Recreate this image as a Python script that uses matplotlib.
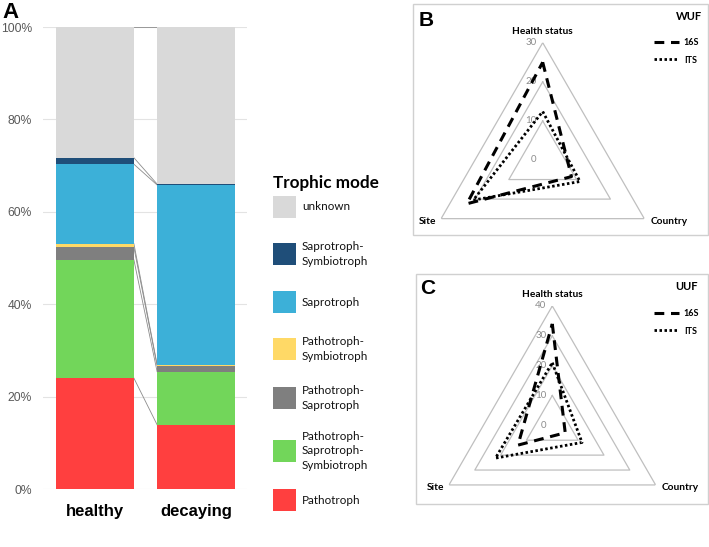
import numpy as np
import matplotlib
matplotlib.use("Agg")
import matplotlib.pyplot as plt
from matplotlib.patches import Rectangle
from matplotlib.lines import Line2D

# ---------------- data ----------------
categories = ["healthy", "decaying"]
modes = ["Pathotroph", "Pathotroph-Saprotroph-Symbiotroph", "Pathotroph-Saprotroph",
         "Pathotroph-Symbiotroph", "Saprotroph", "Saprotroph-Symbiotroph", "unknown"]
legend_labels = ["Pathotroph", "Pathotroph-\nSaprotroph-\nSymbiotroph", "Pathotroph-\nSaprotroph",
                 "Pathotroph-\nSymbiotroph", "Saprotroph", "Saprotroph-\nSymbiotroph", "unknown"]
healthy = [24.0, 25.6, 2.7, 0.8, 17.2, 1.4, 28.3]
decaying = [13.9, 11.5, 1.3, 0.2, 38.9, 0.2, 34.0]
mode_colors = ["#ff3f3f", "#72d65a", "#7f7f7f", "#ffd966", "#3cb0d8", "#1f4e79", "#d9d9d9"]
yticks = [0, 20, 40, 60, 80, 100]

radar_axes = ["Health status", "Country", "Site"]
wuf_16s = [25.0, 8.5, 22.4]
wuf_its = [12.4, 11.0, 20.5]
uuf_16s = [34.0, 5.0, 13.3]
uuf_its = [21.0, 11.5, 22.0]
wuf_rings = [10, 20, 30]
uuf_rings = [10, 20, 30, 40]

# ---------------- figure ----------------
W, H = 709, 547
fig = plt.figure(figsize=(W / 100, H / 100), dpi=100)
fig.patch.set_facecolor("white")

def fx(px):
    return px / W

def fy(py):
    return 1 - py / H

def rect(l, t, r, b):
    return [fx(l), fy(b), (r - l) / W, (b - t) / H]

LAT = "Lato"
ARIAL = "Liberation Sans"

# ---------------- panel A ----------------
axA = fig.add_axes(rect(43, 27, 247, 489))
x = np.arange(len(categories))
bw = 0.77
data = np.array([healthy, decaying])
bottoms = np.zeros(len(categories))
for i, m in enumerate(modes):
    axA.bar(x, data[:, i], bottom=bottoms, width=bw, color=mode_colors[i], zorder=3, linewidth=0)
    bottoms = bottoms + data[:, i]
    # connector series lines
    axA.plot([x[0] + bw / 2, x[1] - bw / 2], [bottoms[0], bottoms[1]],
             color="#8c8c8c", lw=0.6, zorder=2)
axA.set_xlim(-0.515, 1.505)
axA.set_ylim(0, 100)
axA.set_yticks(yticks)
axA.set_yticklabels([f"{v}%" for v in yticks], fontsize=8.7, color="#595959", family=ARIAL)
axA.yaxis.grid(True, color="#e3e3e3", lw=0.8, zorder=0)
axA.set_xticks(x)
axA.set_xticklabels(categories, fontsize=12, fontweight="bold", family=ARIAL)
axA.tick_params(axis="both", length=0)
axA.tick_params(axis="x", pad=11)
axA.tick_params(axis="y", pad=8)
for s in axA.spines.values():
    s.set_visible(False)
fig.text(fx(2), fy(13), "A", fontsize=16, fontweight="bold", family=ARIAL, va="center", ha="left")

# legend for panel A (manual)
fig.text(fx(273), fy(183), "Trophic mode", fontsize=12.3, fontweight="bold", family=LAT,
         va="center", ha="left")
leg_centers = [500, 451, 398, 349, 302, 254, 207]
for i, lab in enumerate(legend_labels):
    cy = leg_centers[i]
    fig.add_artist(Rectangle((fx(273), fy(cy + 11)), 23 / W, 22 / H, transform=fig.transFigure,
                             facecolor=mode_colors[i], edgecolor="none"))
    fig.text(fx(302), fy(cy), lab, fontsize=8.4, family=LAT, va="center", ha="left",
             linespacing=1.35, color="#111111")

# ---------------- radar panels ----------------
angles = np.array([0, 2 * np.pi / 3, 4 * np.pi / 3])

def radar(center, R, rmax, rings, s16, sits, letter, title, box, letter_pos, title_pos, leg_y):
    cx, cy = center
    ax = fig.add_axes(rect(cx - R, cy - R, cx + R, cy + R), projection="polar")
    ax.set_theta_offset(np.pi / 2)
    ax.set_theta_direction(-1)
    ax.set_ylim(0, rmax)
    ax.grid(False)
    ax.set_xticks([])
    ax.set_yticks([])
    ax.spines["polar"].set_visible(False)
    ax.patch.set_alpha(0)
    th = np.append(angles, angles[0])
    for r in rings:
        ax.plot(th, [r] * 4, color="#bfbfbf", lw=0.9, zorder=1)
    for r in [0] + list(rings):
        ax.annotate(str(r), xy=(0, r), xytext=(-6, 0), textcoords="offset pixels",
                    ha="right", va="center", fontsize=7, color="#8c8c8c", family=LAT,
                    annotation_clip=False)
    l1, = ax.plot(th, np.append(s16, s16[0]), color="black", lw=2.2,
                  linestyle=(0, (3.2, 2.2)), label="16S", zorder=3)
    l2, = ax.plot(th, np.append(sits, sits[0]), color="black", lw=2.0,
                  linestyle=(0, (0.9, 0.9)), label="ITS", zorder=3)
    ax.annotate(radar_axes[0], xy=(0, rmax), xytext=(0, 7), textcoords="offset pixels",
                ha="center", va="bottom", fontsize=7.3, fontweight="bold", family=LAT,
                annotation_clip=False)
    ax.annotate(radar_axes[1], xy=(angles[1], rmax), xytext=(6, -3), textcoords="offset pixels",
                ha="left", va="center", fontsize=7.3, fontweight="bold", family=LAT,
                annotation_clip=False)
    ax.annotate(radar_axes[2], xy=(angles[2], rmax), xytext=(-5, -3), textcoords="offset pixels",
                ha="right", va="center", fontsize=7.3, fontweight="bold", family=LAT,
                annotation_clip=False)
    ax.legend(handles=[l1, l2], loc="center left", bbox_to_anchor=(fx(654), fy(leg_y)),
              bbox_transform=fig.transFigure, frameon=False, handlelength=2.8,
              handletextpad=0.5, labelspacing=0.9, borderpad=0, borderaxespad=0,
              prop={"family": LAT, "weight": "bold", "size": 6.5})
    l, t, r, b = box
    fig.add_artist(Rectangle((fx(l), fy(b)), (r - l) / W, (b - t) / H, transform=fig.transFigure,
                             facecolor="none", edgecolor="#d0d0d0", lw=1.0))
    fig.text(fx(letter_pos[0]), fy(letter_pos[1]), letter, fontsize=15, fontweight="bold",
             family=ARIAL, va="center", ha="left")
    fig.text(fx(title_pos[0]), fy(title_pos[1]), title, fontsize=8, fontweight="bold",
             family=LAT, va="center", ha="right")

radar((542.7, 160.0), 117.3, 30, wuf_rings, wuf_16s, wuf_its, "B", "WUF",
      (413, 4, 708, 235), (419, 20), (702, 16), 51.5)
radar((552.3, 425.3), 119.3, 40, uuf_rings, uuf_16s, uuf_its, "C", "UUF",
      (415.7, 274, 707.7, 504.3), (420, 288), (698, 287), 322.5)

fig.savefig("out.png", dpi=100, facecolor="white")
